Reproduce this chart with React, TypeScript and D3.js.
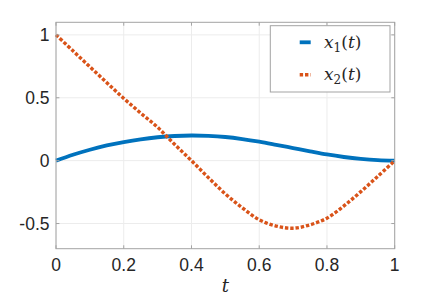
import * as d3 from 'd3';
import * as React from 'react';

const width = 436;
const height = 298;
const margin = { top: 22.3, right: 41.3, bottom: 49.3, left: 56 };

const tValues = [
  0, 0.05, 0.1, 0.15, 0.2, 0.25, 0.3, 0.35, 0.4, 0.45, 0.5,
  0.55, 0.6, 0.65, 0.7, 0.75, 0.8, 0.85, 0.9, 0.95, 1,
];
const x1Values = [
  0, 0.047, 0.087, 0.121, 0.148, 0.17, 0.186, 0.196, 0.2, 0.197, 0.188,
  0.172, 0.151, 0.126, 0.1, 0.074, 0.049, 0.029, 0.014, 0.004, 0,
];
const x2Values = [
  1, 0.873, 0.746, 0.62, 0.495, 0.378, 0.265, 0.13, 0, -0.135, -0.264,
  -0.375, -0.47, -0.52, -0.537, -0.51, -0.457, -0.36, -0.246, -0.125, 0,
];

const xTicks = [0, 0.2, 0.4, 0.6, 0.8, 1];
const yTicks = [-0.5, 0, 0.5, 1];
const xTickLabels = ['0', '0.2', '0.4', '0.6', '0.8', '1'];
const yTickLabels = ['-0.5', '0', '0.5', '1'];

const blue = '#0072BD';
const orange = '#D95319';
const axisColor = '#a3a3a3';
const gridColor = '#ececec';
const textColor = '#262626';
const sans = '"Liberation Sans", Arial, sans-serif';
const serif = '"DejaVu Serif", "Liberation Serif", serif';

export default function App() {
  const x = d3
    .scaleLinear()
    .domain([0, 1])
    .range([margin.left, width - margin.right]);
  const y = d3
    .scaleLinear()
    .domain([-0.7, 1.1])
    .range([height - margin.bottom, margin.top]);

  const line = d3
    .line<number>()
    .x((d, i) => x(tValues[i]))
    .y(d => y(d))
    .curve(d3.curveCatmullRom);

  const [x0, x1] = x.range();
  const [y0, y1] = y.range();
  const tickLen = 3.4;

  const legend = { x: 270.3, y: 25.7, w: 119.7, h: 66.3 };

  const legendLabel = (sub: string) => (
    <>
      <tspan fontStyle="italic">x</tspan>
      <tspan fontSize={12} dy={4}>{sub}</tspan>
      <tspan dy={-4}>(</tspan>
      <tspan fontStyle="italic">t</tspan>
      <tspan>)</tspan>
    </>
  );

  return (
    <svg
      width={width}
      height={height}
      style={{ position: 'fixed', left: 0, top: 0, background: '#fff' }}
    >
      {/* grid */}
      <g stroke={gridColor} strokeWidth={1}>
        {xTicks.map(t => (
          <line key={'gx' + t} x1={x(t)} x2={x(t)} y1={y0} y2={y1} />
        ))}
        {yTicks.map(t => (
          <line key={'gy' + t} x1={x0} x2={x1} y1={y(t)} y2={y(t)} />
        ))}
      </g>

      {/* series */}
      <path
        d={line(x1Values) || ''}
        fill="none"
        stroke={blue}
        strokeWidth={3.8}
      />
      <path
        d={line(x2Values) || ''}
        fill="none"
        stroke={orange}
        strokeWidth={3.4}
        strokeDasharray="3.4 1.9"
      />

      {/* axes box and ticks */}
      <rect
        x={x0}
        y={y1}
        width={x1 - x0}
        height={y0 - y1}
        fill="none"
        stroke={axisColor}
        strokeWidth={1}
      />
      <g stroke={axisColor} strokeWidth={1}>
        {xTicks.map(t => (
          <g key={'tx' + t}>
            <line x1={x(t)} x2={x(t)} y1={y0} y2={y0 - tickLen} />
            <line x1={x(t)} x2={x(t)} y1={y1} y2={y1 + tickLen} />
          </g>
        ))}
        {yTicks.map(t => (
          <g key={'ty' + t}>
            <line x1={x0} x2={x0 + tickLen} y1={y(t)} y2={y(t)} />
            <line x1={x1} x2={x1 - tickLen} y1={y(t)} y2={y(t)} />
          </g>
        ))}
      </g>

      {/* tick labels */}
      <g fill={textColor} style={{ fontFamily: sans, fontSize: 17.5 }}>
        {xTicks.map((t, i) => (
          <text key={'lx' + t} x={x(t)} y={270.7} textAnchor="middle">
            {xTickLabels[i]}
          </text>
        ))}
        {yTicks.map((t, i) => (
          <text
            key={'ly' + t}
            x={x0 - 6.5}
            y={y(t) + 6.2}
            textAnchor="end"
          >
            {yTickLabels[i]}
          </text>
        ))}
      </g>

      {/* axis label */}
      <text
        x={x(0.5)}
        y={291.5}
        textAnchor="middle"
        fontStyle="italic"
        fill={textColor}
        style={{ fontFamily: serif, fontSize: 18 }}
      >
        t
      </text>

      {/* legend */}
      <rect
        x={legend.x}
        y={legend.y}
        width={legend.w}
        height={legend.h}
        fill="#fff"
        stroke={axisColor}
        strokeWidth={1}
      />
      <line
        x1={299.7}
        x2={310.7}
        y1={42.3}
        y2={42.3}
        stroke={blue}
        strokeWidth={3.8}
      />
      <line
        x1={299.7}
        x2={310.7}
        y1={74.7}
        y2={74.7}
        stroke={orange}
        strokeWidth={3.4}
        strokeDasharray="3.4 1.9"
      />
      <g fill={textColor} style={{ fontFamily: serif, fontSize: 17 }}>
        <text x={324} y={47.5}>{legendLabel('1')}</text>
        <text x={324} y={80}>{legendLabel('2')}</text>
      </g>
    </svg>
  );
}
